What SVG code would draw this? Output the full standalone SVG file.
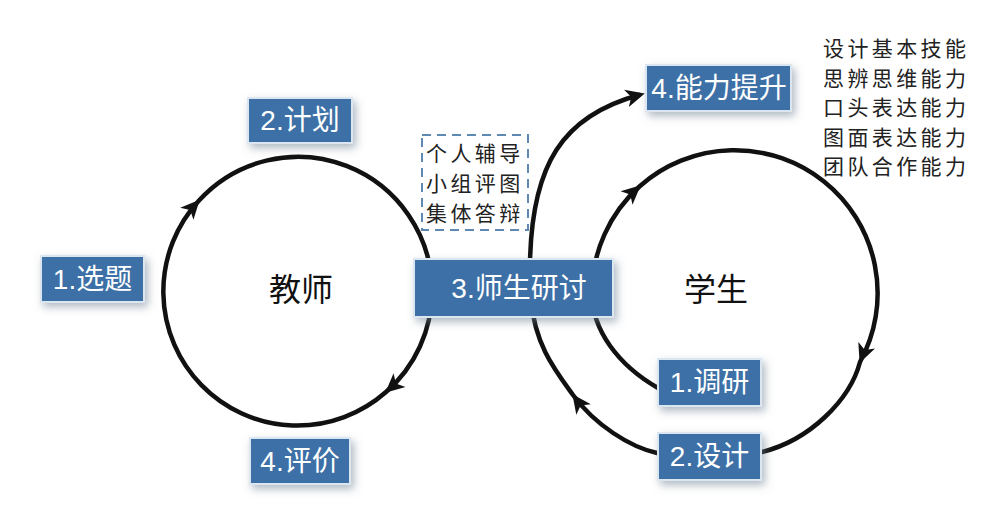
<svg xmlns="http://www.w3.org/2000/svg" width="1000" height="528" viewBox="0 0 1000 528">
<defs>
<style>
.box{fill:#3d6fa6;stroke:#dbe6f0;stroke-width:2}
.bt{fill:#ffffff;font-family:"Liberation Sans","Noto Sans CJK SC",sans-serif;font-size:28px;text-anchor:middle;dominant-baseline:central}
.ct{fill:#111111;font-family:"Noto Sans CJK SC",sans-serif;font-size:32px;text-anchor:middle;dominant-baseline:central}
.lt{fill:#222222;font-family:"Noto Sans CJK SC",sans-serif;font-size:21px;letter-spacing:3.4px}
.ln{fill:none;stroke:#111111;stroke-width:4.5;stroke-linecap:round;stroke-linejoin:round}
</style>
<filter id="sh" x="-20%" y="-30%" width="150%" height="170%">
<feDropShadow dx="3" dy="4" stdDeviation="4" flood-color="#6d7f90" flood-opacity="0.55"/>
</filter>
<marker id="am" viewBox="0 0 20 20" refX="18" refY="10" markerWidth="20" markerHeight="20" markerUnits="userSpaceOnUse" orient="auto">
<path d="M0,1 L19,10 L0,19 L5,10 Z" fill="#111111"/>
</marker>
<marker id="ae" viewBox="0 0 20 20" refX="13" refY="10" markerWidth="20" markerHeight="20" markerUnits="userSpaceOnUse" orient="auto">
<path d="M0,1 L19,10 L0,19 L5,10 Z" fill="#111111"/>
</marker>
</defs>
<rect width="1000" height="528" fill="#ffffff"/>
<g id="connectors">
<path class="ln" marker-mid="url(#am)" d="M 432 291 A 134 134 0 0 1 386 392 A 134 134 0 0 1 199 200.5 A 134 134 0 0 1 432 291"/>
<path class="ln" marker-mid="url(#am)" d="M 658 388 C 618 365 592 330 592 293 A 143 143 0 0 1 640 186 A 143 143 0 0 1 860 362 C 850 400 810 440 762 452"/>
<path class="ln" marker-mid="url(#am)" d="M 657 453 C 630 447 595 425 573 395 C 555 370 535 345 531 300"/>
<path class="ln" marker-end="url(#ae)" d="M 530 262 C 532 165 562 116 639 95"/>
</g>
<g id="teacher"><text class="ct" x="301" y="287">教师</text></g>
<g id="student"><text class="ct" x="716" y="287">学生</text></g>
<g id="n-xuanti"><rect class="box" filter="url(#sh)" x="41" y="256" width="103" height="46"/><text class="bt" x="92.5" y="279">1.选题</text></g>
<g id="n-jihua"><rect class="box" filter="url(#sh)" x="248" y="98" width="104" height="45"/><text class="bt" x="300" y="120.5">2.计划</text></g>
<g id="n-pingjia"><rect class="box" filter="url(#sh)" x="250" y="438" width="100" height="46"/><text class="bt" x="300" y="461">4.评价</text></g>
<g id="n-yantao"><rect class="box" filter="url(#sh)" x="414" y="259" width="199" height="58"/><text class="bt" x="519" y="288">3.师生研讨</text></g>
<g id="n-tisheng"><rect class="box" filter="url(#sh)" x="646" y="65" width="145" height="46"/><text class="bt" x="719" y="88">4.能力提升</text></g>
<g id="n-diaoyan"><rect class="box" filter="url(#sh)" x="658" y="359" width="103" height="47"/><text class="bt" x="709.5" y="382.5">1.调研</text></g>
<g id="n-sheji"><rect class="box" filter="url(#sh)" x="658" y="433" width="103" height="47"/><text class="bt" x="709.5" y="456.5">2.设计</text></g>
<g id="n-fudao">
<rect x="422" y="135" width="106" height="95" fill="none" stroke="#5f88b3" stroke-width="2" stroke-dasharray="9,6"/>
<text class="lt" x="426" y="161">个人辅导</text>
<text class="lt" x="426" y="191">小组评图</text>
<text class="lt" x="426" y="221">集体答辩</text>
</g>
<g id="n-abilities">
<text class="lt" x="823" y="56">设计基本技能</text>
<text class="lt" x="823" y="85.5">思辨思维能力</text>
<text class="lt" x="823" y="115">口头表达能力</text>
<text class="lt" x="823" y="144.5">图面表达能力</text>
<text class="lt" x="823" y="174">团队合作能力</text>
</g>
</svg>
